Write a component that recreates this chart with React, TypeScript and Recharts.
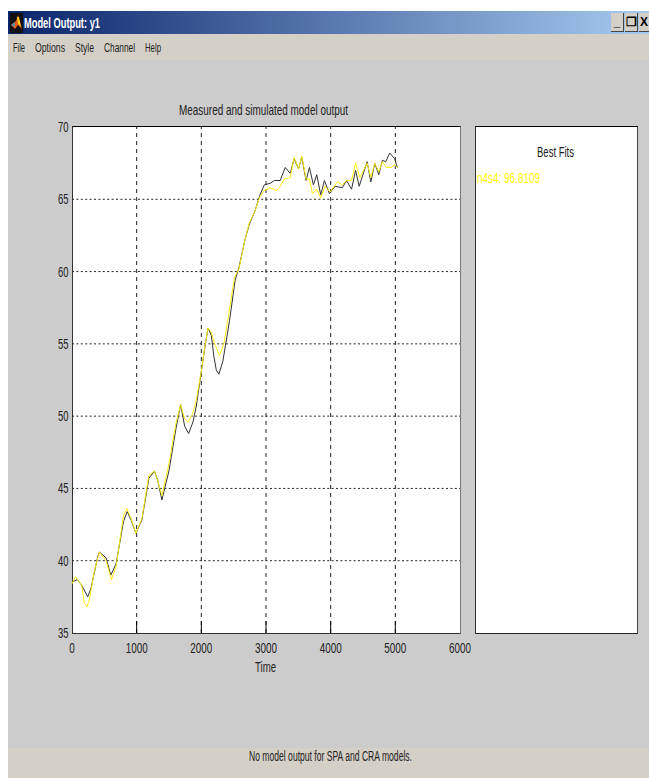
import React from "react";
import { LineChart, Line, XAxis, YAxis, ReferenceLine } from "recharts";

const measuredTime = [0, 83, 150, 243, 295, 398, 424, 527, 600, 682, 796, 853, 915, 987, 1080, 1189, 1276, 1328, 1390, 1499, 1602, 1680, 1742, 1804, 1871, 1922, 2000, 2050, 2103, 2154, 2195, 2231, 2272, 2333, 2436, 2523, 2582, 2675, 2737, 2830, 2907, 2974, 3062, 3129, 3220, 3297, 3374, 3436, 3503, 3554, 3620, 3672, 3733, 3785, 3846, 3903, 3980, 4067, 4180, 4246, 4323, 4385, 4441, 4564, 4621, 4682, 4744, 4800, 4851, 4913, 4990, 5031];
const measuredValue = [38.5, 38.7, 38.3, 37.5, 38.1, 40.3, 40.6, 40.2, 39.0, 39.8, 42.7, 43.4, 42.8, 41.9, 42.8, 45.7, 46.2, 45.5, 44.2, 46.2, 49.0, 50.8, 49.3, 48.8, 49.6, 50.7, 53.1, 54.6, 56.1, 55.6, 54.1, 53.2, 52.9, 53.8, 56.6, 59.4, 60.3, 62.2, 63.2, 64.2, 65.3, 66.0, 66.1, 66.3, 66.3, 67.2, 66.8, 67.8, 67.1, 67.9, 66.3, 67.2, 66.0, 66.7, 65.3, 66.3, 65.4, 65.9, 65.8, 66.3, 65.7, 67.0, 65.9, 67.6, 66.2, 67.5, 66.7, 67.7, 67.6, 68.2, 67.8, 67.2];

const simulatedTime = [0, 52, 150, 190, 233, 270, 346, 424, 527, 610, 682, 796, 848, 915, 987, 1080, 1189, 1276, 1328, 1390, 1499, 1602, 1680, 1742, 1793, 1860, 1922, 2000, 2050, 2103, 2154, 2205, 2282, 2349, 2436, 2513, 2582, 2675, 2737, 2830, 2907, 2974, 3062, 3165, 3220, 3282, 3374, 3436, 3503, 3554, 3620, 3672, 3718, 3785, 3846, 3913, 3990, 4103, 4180, 4246, 4323, 4385, 4451, 4564, 4621, 4682, 4744, 4800, 4862, 4938, 4990, 5031];
const simulatedValue = [38.4, 38.9, 38.3, 37.1, 36.8, 37.3, 39.3, 40.6, 40.0, 38.7, 39.6, 43.1, 43.6, 42.9, 41.9, 42.9, 45.9, 46.2, 45.5, 44.5, 46.7, 49.4, 50.8, 49.8, 49.6, 50.1, 51.1, 53.1, 54.7, 56.1, 55.8, 55.0, 54.2, 55.0, 57.4, 59.6, 60.2, 62.2, 63.3, 64.2, 65.2, 65.6, 65.8, 65.6, 65.9, 66.4, 66.5, 67.9, 67.1, 68.0, 66.4, 66.4, 65.4, 65.7, 65.1, 65.9, 65.5, 66.2, 66.0, 66.3, 66.3, 67.5, 66.5, 67.5, 66.5, 67.5, 66.9, 67.6, 67.2, 67.2, 67.4, 67.2];

const xTicks = [0, 1000, 2000, 3000, 4000, 5000, 6000];
const yTicks = [35, 40, 45, 50, 55, 60, 65, 70];
const xGrid = [1000, 2000, 3000, 4000, 5000];
const yGrid = [40, 45, 50, 55, 60, 65];
const menuItems = ["File", "Options", "Style", "Channel", "Help"];
const menuLeft = [13, 35, 75, 104, 145];
const menuWidth = [12, 30, 19, 31, 16];

const measured = measuredTime.map((t, i) => ({ t, v: measuredValue[i] }));
const simulated = simulatedTime.map((t, i) => ({ t, v: simulatedValue[i] }));

const FONT = '"Liberation Sans", sans-serif';
const INK = "#222";

// the screenshot's text is squeezed sideways, so every label gets a fixed width
function Squeezed({ x, y, w, size = 14, fill = INK, bold = false, children }: any) {
  return (
    <text
      x={x}
      y={y}
      textLength={w}
      lengthAdjust="spacingAndGlyphs"
      fontFamily={FONT}
      fontSize={size}
      fontWeight={bold ? 700 : 400}
      fill={fill}
    >
      {children}
    </text>
  );
}

function XTick({ x, payload }: any) {
  const inner = payload.value !== 0 && payload.value !== 6000;
  const w = String(payload.value).length * 5.5;
  return (
    <g>
      {inner && <line x1={x} x2={x} y1={633} y2={621} stroke="#000" />}
      <Squeezed x={x - w / 2} y={653} w={w} size={15}>
        {payload.value}
      </Squeezed>
    </g>
  );
}

function YTick({ y, payload }: any) {
  return (
    <Squeezed x={58} y={y + 5} w={10.5} size={15}>
      {payload.value}
    </Squeezed>
  );
}

function TimeLabel({ viewBox }: any) {
  return (
    <Squeezed x={viewBox.x + viewBox.width / 2 - 11} y={672} w={21} size={15}>
      Time
    </Squeezed>
  );
}

function WinButton({ left, glyph, width = 12 }: { left: number; glyph: string; width?: number }) {
  return (
    <div
      style={{
        position: "absolute",
        left,
        top: 13,
        width,
        height: 18,
        background: "#D4D0C8",
        borderRight: "1px solid #444",
        borderBottom: "1px solid #444",
        textAlign: "center",
        fontFamily: FONT,
        fontWeight: 700,
        fontSize: 12,
        lineHeight: "19px",
        color: "#000",
      }}
    >
      {glyph}
    </div>
  );
}

export default function App() {
  return (
    <div style={{ position: "absolute", left: 0, top: 0, width: 649, height: 779, background: "#fff", overflow: "hidden" }}>
      {/* window chrome */}
      <div style={{ position: "absolute", left: 8, top: 34, width: 641, height: 744, background: "#CCCCCC" }} />
      <div style={{ position: "absolute", left: 8, top: 11, width: 641, height: 23, background: "linear-gradient(90deg, #0A246A 0%, #A6CAF0 100%)" }} />
      <div style={{ position: "absolute", left: 8, top: 34, width: 641, height: 26, background: "#D4D0C8" }} />
      <div style={{ position: "absolute", left: 8, top: 748, width: 641, height: 30, background: "#D4D0C8" }} />
      <svg style={{ position: "absolute", left: 10, top: 13 }} width={13} height={20}>
        <rect width={13} height={20} fill="#111" />
        <path d="M1 12 L6 8 L8 2 L12 16 L8 12 L5 16 Z" fill="#E8561A" />
        <path d="M7 4 L9 4 L11 14 L8 11 Z" fill="#F5D020" />
        <path d="M1 12 L5 9 L5 14 Z" fill="#5A8FA0" />
      </svg>
      <WinButton left={611} glyph="_" />
      <WinButton left={625} glyph="❐" />
      <WinButton left={639} glyph="X" width={10} />

      {/* axes boxes */}
      <div style={{ position: "absolute", left: 72, top: 126, width: 387, height: 506, background: "#fff", borderTop: "1px solid #000", borderLeft: "1px solid #333", borderRight: "1px solid #777", borderBottom: "1px solid #333" }} />
      <div style={{ position: "absolute", left: 475, top: 126, width: 161, height: 506, background: "#fff", borderTop: "1px solid #000", borderLeft: "1px solid #333", borderRight: "1px solid #444", borderBottom: "1px solid #222" }} />

      <svg style={{ position: "absolute", left: 0, top: 0 }} width={649} height={779}>
        <Squeezed x={24} y={28} w={76} size={14} fill="#fff" bold>Model Output: y1</Squeezed>
        {menuItems.map((m, i) => (
          <Squeezed key={m} x={menuLeft[i]} y={52} w={menuWidth[i]} size={13}>
            {m}
          </Squeezed>
        ))}
        <Squeezed x={179} y={115} w={169} size={15}>Measured and simulated model output</Squeezed>
        <Squeezed x={537} y={157} w={37} size={15}>Best Fits</Squeezed>
        <Squeezed x={477} y={183} w={63} size={15} fill="#FFFF00">n4s4: 96.8109</Squeezed>
        <Squeezed x={249} y={761} w={163} size={14}>No model output for SPA and CRA models.</Squeezed>
      </svg>

      <div style={{ position: "absolute", left: 0, top: 0 }}>
        <LineChart width={649} height={779} margin={{ top: 127, right: 189, bottom: 0, left: 0 }}>
          <XAxis
            dataKey="t"
            type="number"
            domain={[0, 6000]}
            ticks={xTicks}
            height={146}
            axisLine={false}
            tickLine={false}
            tick={<XTick />}
            interval={0}
            allowDuplicatedCategory={false}
            label={<TimeLabel />}
          />
          <YAxis type="number" domain={[35, 70]} ticks={yTicks} width={72} axisLine={false} tickLine={false} tick={<YTick />} interval={0} />
          {xGrid.map((v) => (
            <ReferenceLine key={v} x={v} stroke="#222" strokeDasharray="4 4" />
          ))}
          {yGrid.map((v) => (
            <ReferenceLine key={v} y={v} stroke="#222" strokeDasharray="2 2.4" />
          ))}
          <Line data={measured} dataKey="v" stroke="#333" strokeWidth={1} dot={false} isAnimationActive={false} />
          <Line data={simulated} dataKey="v" stroke="#FFEE10" strokeWidth={1} dot={false} isAnimationActive={false} />
        </LineChart>
      </div>
    </div>
  );
}
